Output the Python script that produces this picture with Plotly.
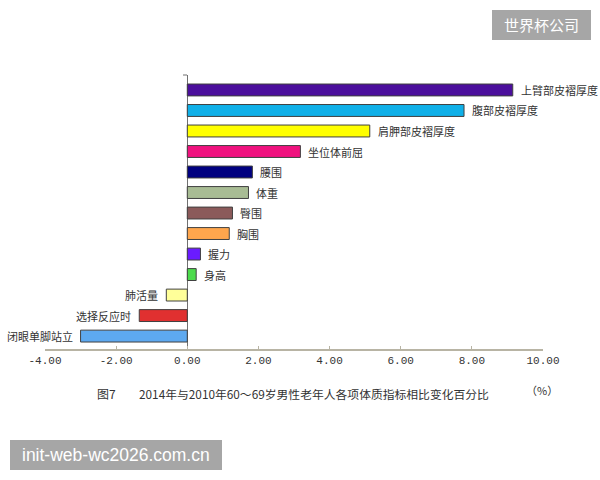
import plotly.graph_objects as go

categories = ["上臂部皮褶厚度", "腹部皮褶厚度", "肩胛部皮褶厚度", "坐位体前屈", "腰围", "体重",
              "臀围", "胸围", "握力", "身高", "肺活量", "选择反应时", "闭眼单脚站立"]
values = [9.15, 7.78, 5.13, 3.18, 1.83, 1.72, 1.27, 1.18, 0.37, 0.25, -0.59, -1.35, -3.0]
colors = ["#4b0f9c", "#10b0e8", "#ffff00", "#f0127f", "#000080", "#a8bc94",
          "#8b5a5a", "#ffa64d", "#6a1bff", "#4cdb4c", "#ffff99", "#e03030", "#5da9f0"]
tick_vals = [-4, -2, 0, 2, 4, 6, 8, 10]
tick_text = ["-4.00", "-2.00", "0.00", "2.00", "4.00", "6.00", "8.00", "10.00"]

idx = list(range(len(categories)))
cjk = "Noto Sans CJK SC"

fig = go.Figure()
fig.add_trace(go.Bar(
    x=values, y=idx, orientation="h", width=0.58,
    marker=dict(color=colors, line=dict(color="#404040", width=1)),
    hoverinfo="skip", showlegend=False,
))

annotations = []
for i, (c, v) in enumerate(zip(categories, values)):
    annotations.append(dict(
        x=v, y=i, xref="x", yref="y", text=c, showarrow=False,
        xanchor="left" if v >= 0 else "right",
        xshift=6 if v >= 0 else -6,
        font=dict(family=cjk, size=11, color="#333333"),
    ))

annotations += [
    dict(x=95, y=393, xref="paper", yref="paper", text="图7", showarrow=False,
         xanchor="left", yanchor="middle", font=dict(family=cjk, size=12, color="#333333")),
    dict(x=137, y=393, xref="paper", yref="paper",
         text="2014年与2010年60～69岁男性老年人各项体质指标相比变化百分比", showarrow=False,
         xanchor="left", yanchor="middle", font=dict(family=cjk, size=11.8, color="#333333")),
    dict(x=542, y=390, xref="paper", yref="paper", text="（%）", showarrow=False,
         xanchor="center", yanchor="middle", font=dict(family=cjk, size=11, color="#333333")),
]

W, H = 600, 480
ml, mr, mt, mb = 45, 57, 75, 131
pw, ph = W - ml - mr, H - mt - mb


def px(xp):
    return (xp - ml) / pw


def py(yp):
    return (H - mb - yp) / ph


for a in annotations:
    if a["xref"] == "paper":
        a["x"] = px(a["x"])
        a["y"] = py(a["y"])

# watermarks
shapes = [
    dict(type="rect", xref="paper", yref="paper", x0=px(492), x1=px(591), y0=py(40), y1=py(10),
         fillcolor="#a6a6a6", line=dict(width=0), layer="above"),
    dict(type="rect", xref="paper", yref="paper", x0=px(10), x1=px(222), y0=py(470), y1=py(440),
         fillcolor="#a6a6a6", line=dict(width=0), layer="above"),
    dict(type="line", xref="paper", yref="paper", x0=px(183), x1=px(187), y0=1, y1=1,
         line=dict(color="#707070", width=1)),
]
annotations += [
    dict(x=px(541.5), y=py(25), xref="paper", yref="paper", text="世界杯公司", showarrow=False,
         xanchor="center", yanchor="middle", font=dict(family=cjk, size=15, color="white")),
    dict(x=px(116), y=py(455), xref="paper", yref="paper", text="init-web-wc2026.com.cn",
         showarrow=False, xanchor="center", yanchor="middle",
         font=dict(family="Liberation Sans", size=17.5, color="white")),
]

fig.update_layout(
    width=W, height=H,
    margin=dict(l=ml, r=mr, t=mt, b=mb),
    plot_bgcolor="white", paper_bgcolor="white",
    bargap=0.42,
    xaxis=dict(range=[-4, 10], tickvals=tick_vals, ticktext=tick_text,
               showgrid=False, zeroline=True, zerolinecolor="#707070", zerolinewidth=1,
               showline=True, linecolor="#b8b4a4", linewidth=2,
               ticks="inside", ticklen=3, tickcolor="#b8b4a4",
               tickfont=dict(family="Liberation Mono", size=11, color="#333333")),
    yaxis=dict(range=[12.63, -0.73], showgrid=False, zeroline=False, showticklabels=False,
               showline=False, ticks=""),
    annotations=annotations, shapes=shapes,
)

fig.write_html("out.html")
